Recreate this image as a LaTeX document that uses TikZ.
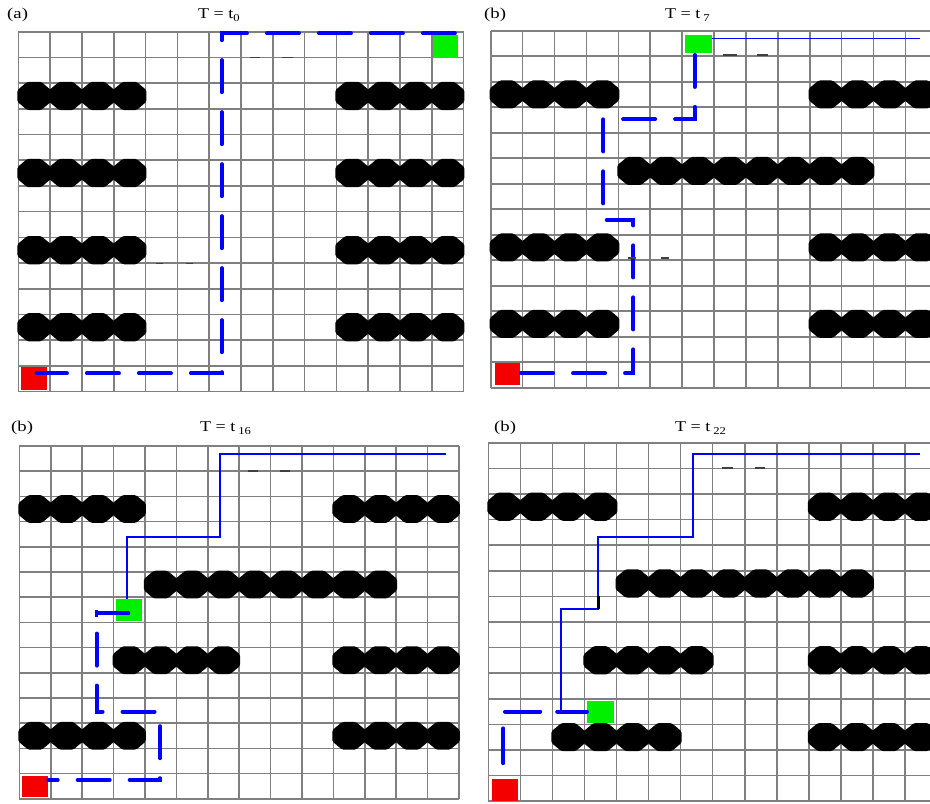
\documentclass[tikz,border=0pt]{standalone}
\usepackage{fontspec}
\setmainfont{Liberation Serif}
\definecolor{gridgray}{RGB}{128,128,128}
\definecolor{pathblue}{RGB}{0,0,255}
\definecolor{robotgreen}{RGB}{0,240,0}
\definecolor{robotred}{RGB}{245,0,0}
\newcommand\drawgrid{\foreach \i in {0,...,14} {\draw[gridline] (\i,0) -- (\i,14); \draw[gridline] (0,\i) -- (14,\i);}}
\newcommand\blobrow[3]{\foreach \c in {#1,...,#2} {\fill[blob, shift={(\c+0.5,#3+0.5)}] (0.53,0.226) -- (0.218,0.55) -- (-0.218,0.55) -- (-0.53,0.226) -- (-0.53,-0.226) -- (-0.218,-0.55) -- (0.218,-0.55) -- (0.53,-0.226) -- cycle;}}
\newcommand\ttl[2]{\scalebox{1.2}[1]{T = t#1\raisebox{-3pt}{\fontsize{10.5}{10.5}\selectfont #2}}}
\begin{document}
\begin{tikzpicture}[x=1pt,y=-1pt,
  gridline/.style={draw=gridgray, line width=1.6pt},
  blob/.style={fill=black, rounded corners=1.5pt},
  redsq/.style={fill=robotred, draw=none, inner sep=0pt, minimum width=26pt, minimum height=22pt},
  greensq/.style={fill=robotgreen, draw=none, inner sep=0pt, minimum width=26pt, minimum height=22pt},
  dpath/.style={draw=pathblue, line width=4pt, line cap=round, dash pattern=on 32pt off 20pt},
  spath/.style={draw=pathblue, line width=1.7pt},
  smudge/.style={draw=black!75, line width=1.6pt},
  lbl/.style={font=\fontsize{15}{17}\selectfont, inner sep=0pt, anchor=west}]
\fill[white] (0,0) rectangle (930,804);
\useasboundingbox (0,0) rectangle (930,804);
\clip (0,0) rectangle (930,804);

% ---------- titles ----------
\node[lbl] (la) at (7,15) {\scalebox{1.25}[1]{(a)}};
\node[lbl] (ta) at (198,15) {\ttl{}{0}};
\node[lbl] (lb) at (484,15) {\scalebox{1.25}[1]{(b)}};
\node[lbl] (tb) at (665,15) {\ttl{\,}{7}};
\node[lbl] (lc) at (11,428) {\scalebox{1.25}[1]{(b)}};
\node[lbl] (tc) at (200,428) {\ttl{\,}{16}};
\node[lbl] (ld) at (494,428) {\scalebox{1.25}[1]{(b)}};
\node[lbl] (td) at (675,428) {\ttl{\,}{22}};

% ---------- panel (a) ----------
\begin{scope}[shift={(18.3pt,-31.7pt)}, x=31.8pt, y=-25.7pt]
  \drawgrid
  \blobrow{0}{3}{2} \blobrow{10}{13}{2}
  \blobrow{0}{3}{5} \blobrow{10}{13}{5}
  \blobrow{0}{3}{8} \blobrow{10}{13}{8}
  \blobrow{0}{3}{11} \blobrow{10}{13}{11}
  \node[redsq, minimum width=25.8pt, minimum height=23pt] (redA) at (0.485,13.48) {};
  \node[greensq, minimum width=25pt, minimum height=23pt] (greenA) at (13.435,0.58) {};
  \draw[dpath] (13.73,0.06) -- (6.4,0.06) -- (6.4,13.29) -- (0.58,13.29);
\end{scope}
\draw[smudge] (250,57.3) -- (260,57.3) (282,57.3) -- (293,57.3);
\draw[smudge] (156,263.3) -- (163,263.3) (186,263.3) -- (193,263.3);

% ---------- panel (b) t7 ----------
\begin{scope}[shift={(490.7pt,-30.7pt)}, x=31.9pt, y=-25.5pt]
  \drawgrid
  \blobrow{0}{3}{2} \blobrow{10}{13}{2}
  \blobrow{4}{11}{5}
  \blobrow{0}{3}{8} \blobrow{10}{13}{8}
  \blobrow{0}{3}{11} \blobrow{10}{13}{11}
  \node[redsq, minimum width=25pt, minimum height=22pt] (redB) at (0.525,13.47) {};
  \node[greensq, minimum width=26.7pt, minimum height=18.5pt] (greenB) at (6.51,0.53) {};
  \draw[spath] (greenB.east |- 0,0.3) -- (13.45,0.3);
  \draw[dpath] (6.4,0.95) -- (6.4,3.47) -- (3.53,3.47) -- (3.53,7.42) -- (4.47,7.42) -- (4.47,13.43) -- (0.92,13.43);
\end{scope}
\draw[smudge] (723,55) -- (737,55) (757,55) -- (768,55);
\draw[smudge] (628,258) -- (636,258) (661,258) -- (669,258);

% ---------- panel (c) t16 ----------
\begin{scope}[shift={(19.3pt,-446pt)}, x=31.4pt, y=-25.2pt]
  \drawgrid
  \blobrow{0}{3}{2} \blobrow{10}{13}{2}
  \blobrow{4}{11}{5}
  \blobrow{3}{6}{8} \blobrow{10}{13}{8}
  \blobrow{0}{3}{11} \blobrow{10}{13}{11}
  \node[redsq, minimum width=26.5pt, minimum height=21pt] (redC) at (0.5,13.5) {};
  \node[greensq, minimum width=25.7pt, minimum height=21.5pt] (greenC) at (3.49,6.5) {};
  \draw[spath] (13.6,0.33) -- (6.39,0.33) -- (6.39,3.6) -- (3.42,3.6) -- (greenC.north -| 3.42,0);
  \draw[dpath] (3.47,6.64) -- (2.46,6.64) -- (2.46,10.54) -- (4.48,10.54) -- (4.48,13.25) -- (0.92,13.25);
  \draw[draw=pathblue, line width=3pt] (2.46,6.5) -- (2.46,6.78);
\end{scope}
\draw[smudge] (248,471) -- (258,471) (280,471) -- (290,471);

% ---------- panel (d) t22 ----------
\begin{scope}[shift={(488.3pt,-442.7pt)}, x=32.05pt, y=-25.6pt]
  \drawgrid
  \blobrow{0}{3}{2} \blobrow{10}{13}{2}
  \blobrow{4}{11}{5}
  \blobrow{3}{6}{8} \blobrow{10}{13}{8}
  \blobrow{2}{5}{11} \blobrow{10}{13}{11}
  \node[redsq, minimum width=26pt, minimum height=22pt] (redD) at (0.51,13.57) {};
  \node[greensq, minimum width=26.7pt, minimum height=21.6pt] (greenD) at (3.5,10.53) {};
  \draw[spath] (13.47,0.45) -- (6.38,0.45) -- (6.38,3.67) -- (3.43,3.67) -- (3.43,6.5) -- (2.26,6.5) -- (2.26,10.5) -- (greenD.west |- 0,10.5);
  \draw[draw=black, line width=3pt] (3.43,6.0) -- (3.43,6.5);
  \draw[draw=pathblue, line width=4pt, line cap=round] (0.47,12.52) -- (0.47,11.16);
  \draw[draw=pathblue, line width=4pt, line cap=round] (0.52,10.5) -- (1.62,10.5);
  \draw[draw=pathblue, line width=4pt, line cap=round] (2.15,10.5) -- (greenD.west |- 0,10.5);
\end{scope}
\draw[smudge] (722,468) -- (733,468) (755,468) -- (765,468);
\end{tikzpicture}
\end{document}
